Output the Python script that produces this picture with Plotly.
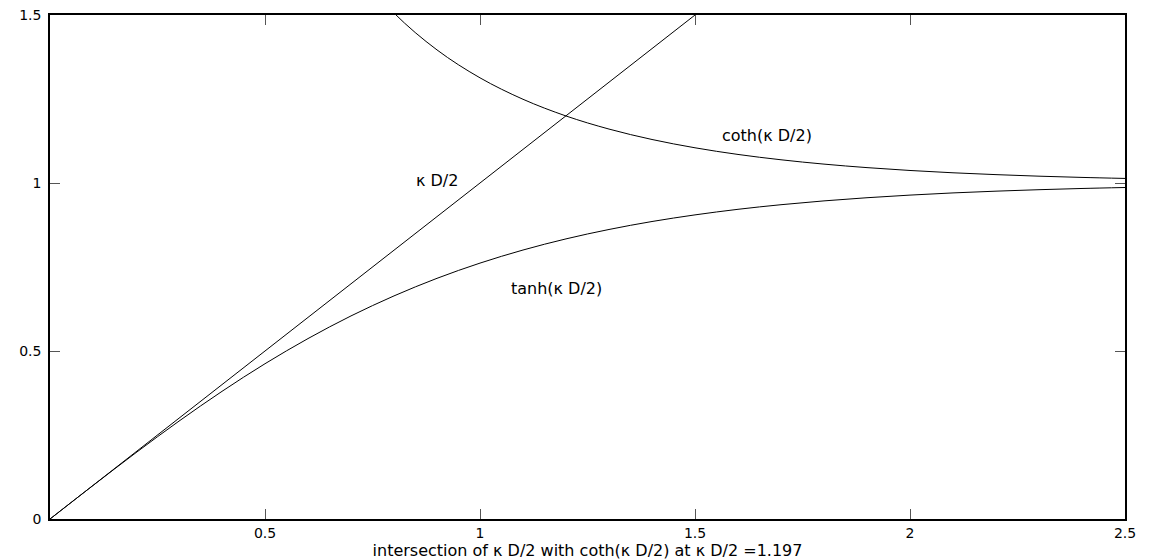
import plotly.graph_objects as go

# sample points along kappa*D/2
kd_tanh = [0.0, 0.1, 0.2, 0.3, 0.4, 0.5, 0.6, 0.7, 0.8, 0.9, 1.0, 1.1, 1.2,
           1.3, 1.4, 1.5, 1.6, 1.7, 1.8, 1.9, 2.0, 2.1, 2.2, 2.3, 2.4, 2.5]
tanh_vals = [0.0, 0.0997, 0.1974, 0.2913, 0.3799, 0.4621, 0.5370, 0.6044,
             0.6640, 0.7163, 0.7616, 0.8005, 0.8337, 0.8617, 0.8854, 0.9051,
             0.9217, 0.9354, 0.9468, 0.9562, 0.9640, 0.9705, 0.9757, 0.9801,
             0.9837, 0.9866]

kd_coth = [0.7, 0.8, 0.9, 1.0, 1.1, 1.2, 1.3, 1.4, 1.5, 1.6, 1.7, 1.8, 1.9,
           2.0, 2.1, 2.2, 2.3, 2.4, 2.5]
coth_vals = [1.6546, 1.5059, 1.3961, 1.3130, 1.2492, 1.1995, 1.1605, 1.1295,
             1.1048, 1.0850, 1.0691, 1.0562, 1.0458, 1.0373, 1.0304, 1.0249,
             1.0203, 1.0166, 1.0136]

kd_line = [0.0, 1.5]
line_vals = [0.0, 1.5]

x_ticks = [0.5, 1, 1.5, 2, 2.5]
x_ticktext = ["0.5", "1", "1.5", "2", "2.5"]
y_ticks = [0, 0.5, 1, 1.5]
y_ticktext = ["0", "0.5", "1", "1.5"]

labels = [
    ("\u03ba D/2", 0.90, 1.008),
    ("coth(\u03ba D/2)", 1.667, 1.142),
    ("tanh(\u03ba D/2)", 1.177, 0.687),
]
x_title = "intersection of \u03ba D/2 with coth(\u03ba D/2) at \u03ba D/2 =1.197"

FONT = "DejaVu Sans"
FS = 16
TICK_FS = 14

fig = go.Figure()
fig.add_trace(go.Scatter(x=kd_line, y=line_vals, mode="lines",
                         line=dict(color="black", width=1)))
fig.add_trace(go.Scatter(x=kd_tanh, y=tanh_vals, mode="lines",
                         line=dict(color="black", width=1, shape="spline")))
fig.add_trace(go.Scatter(x=kd_coth, y=coth_vals, mode="lines",
                         line=dict(color="black", width=1, shape="spline")))

for text, x, y in labels:
    fig.add_annotation(x=x, y=y, text=text, showarrow=False,
                       xanchor="center", yanchor="middle",
                       font=dict(family=FONT, size=FS, color="black"))

axis_common = dict(
    showgrid=False, zeroline=False, showline=True, linecolor="black",
    linewidth=1.5, mirror="ticks", ticks="inside", ticklen=10, tickwidth=1,
    tickcolor="#555555", tickfont=dict(family=FONT, size=TICK_FS, color="black"),
)

fig.update_layout(
    width=1150, height=560,
    margin=dict(l=50, r=25, t=15, b=41),
    paper_bgcolor="white", plot_bgcolor="white",
    showlegend=False,
    xaxis=dict(range=[0, 2.5], tickvals=x_ticks, ticktext=x_ticktext,
               title=dict(text=x_title, standoff=3,
                          font=dict(family=FONT, size=FS, color="black")),
               automargin=False, **axis_common),
    yaxis=dict(range=[0, 1.5], tickvals=y_ticks, ticktext=y_ticktext,
               ticklabelstandoff=4, automargin=False, **axis_common),
)

fig.write_html("out.html")
